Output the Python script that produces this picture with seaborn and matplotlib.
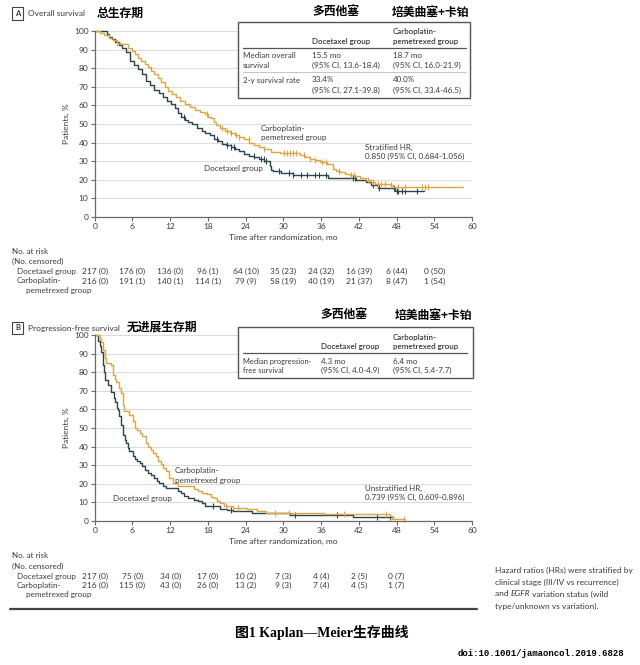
import numpy as np
import pandas as pd
import matplotlib
matplotlib.use('Agg')
import matplotlib.pyplot as plt
import matplotlib.transforms as mtransforms
from matplotlib.patches import Rectangle
import seaborn as sns

# ---- data ----
months = [0, 6, 12, 18, 24, 30, 36, 42, 48, 54]

# overall survival (step points: time, % after each drop)
os_doc_t = [0, 1.9, 2.3, 2.8, 3.3, 3.9, 4.4, 5.0, 5.6, 6.2, 6.9, 7.5, 8.2, 8.8, 9.5, 10.2, 10.9,
            11.5, 12.2, 12.7, 13.2, 13.8, 14.3, 14.9, 15.4, 16.2, 17.0, 17.6, 18.3, 19.0, 19.6,
            20.3, 20.9, 21.6, 22.3, 23.0, 23.8, 24.6, 25.4, 26.2, 27.0, 27.8, 28.1, 28.4, 29.7,
            31.6, 37.1, 41.5, 43.2, 44.0, 45.1, 47.7, 52.4]
os_doc_s = [100, 98.5, 97, 95.5, 94, 92.5, 91, 88.5, 84, 81.5, 79.5, 77, 73, 71, 68.5, 66.5, 64.5,
            62.5, 60.5, 58.5, 56, 54, 52, 51, 50, 48, 46.5, 45, 44, 42, 41,
            39.5, 38.5, 37.5, 36.5, 35.5, 34, 33, 32, 31, 30, 27.5, 25.5, 24.5, 23.5,
            22.5, 21, 19.8, 18.8, 17, 15.8, 14, 14]
os_carbo_t = [0, 0.8, 1.5, 2.2, 2.9, 3.5, 4.2, 5.3, 5.9, 6.4, 6.9, 7.4, 8.0, 8.5, 9.0, 9.5, 10.1,
              10.6, 11.2, 11.7, 12.3, 13.0, 13.6, 14.3, 15.1, 15.9, 16.7, 17.5, 18.0, 18.5, 18.9,
              19.3, 20.0, 20.7, 21.5, 22.3, 23.0, 23.8, 24.6, 25.4, 26.2, 27.0, 28.1, 29.5, 32.6,
              33.4, 34.2, 35.0, 35.8, 36.9, 37.9, 38.4, 39.0, 39.8, 40.6, 41.4, 42.2, 43.2, 44.0,
              44.6, 47.0, 47.5, 58.6]
os_carbo_s = [100, 99, 98, 96.5, 95, 93.5, 93, 91, 89, 87.5, 85.5, 84, 82, 80.5, 78.5, 77, 74.5,
              72.5, 70, 68, 66, 64.5, 62.5, 61, 59, 57.5, 56.5, 55.5, 54, 53, 51,
              49.5, 48, 46.5, 45, 44, 43, 41.8, 40, 38.7, 37.5, 36.5, 35.2, 34.6, 33.2,
              32.2, 31.4, 30.5, 29.6, 28.7, 26, 25, 24.2, 23.3, 22.4, 21.8, 21.1, 19.7, 18.8,
              17.9, 17, 16, 16]
os_doc_cens = [14.2, 19.5, 21.0, 21.6, 22.1, 25.3, 26.5, 26.9, 27.3, 29.3, 30.9, 31.6, 32.8, 33.7,
               35.0, 35.6, 36.8, 41.0, 41.4, 44.2, 45.2, 47.6, 48.0, 48.3, 48.8, 49.4, 51.2]
os_carbo_cens = [3.6, 17.9, 20.3, 21.1, 21.6, 22.4, 23.0, 24.5, 27.0, 30.1, 30.6, 31.1, 31.6, 32.0,
                 33.3, 34.2, 35.1, 36.2, 36.8, 38.8, 40.7, 41.2, 43.5, 44.3, 45.0, 45.6, 46.2,
                 47.1, 48.2, 49.3, 52.1, 52.6, 53.0]
os_doc_risk = ['217 (0)', '176 (0)', '136 (0)', '96 (1)', '64 (10)', '35 (23)', '24 (32)', '16 (39)', '6 (44)', '0 (50)']
os_carbo_risk = ['216 (0)', '191 (1)', '140 (1)', '114 (1)', '79 (9)', '58 (19)', '40 (19)', '21 (37)', '8 (47)', '1 (54)']

# progression-free survival
pfs_doc_t = [0, 0.5, 0.8, 1.05, 1.3, 1.5, 1.7, 2.1, 2.6, 3.0, 3.2, 3.5, 3.7, 3.9, 4.2, 4.5, 4.8,
             5.0, 5.3, 5.5, 6.05, 6.4, 6.8, 7.2, 7.6, 8.0, 8.4, 8.9, 9.5, 9.9, 10.3, 10.8, 11.3,
             13.2, 13.7, 14.2, 14.8, 15.8, 16.4, 17.1, 17.5, 19.9, 21.0, 22.0, 25.0, 31.1, 41.1, 47.5]
pfs_doc_s = [100, 97, 94, 91, 84, 80, 76, 73, 69.6, 66, 64, 61, 59.8, 56.3, 51.8, 46, 43.5,
             42, 39.5, 37.5, 34.8, 33.5, 32.1, 31, 29.5, 27.5, 25.9, 24.5, 23.2, 21.5, 20.5, 19, 17.9,
             16.1, 14.8, 13.4, 12.2, 11.2, 10.5, 9.8, 8, 6.6, 5.9, 5.4, 4.1, 3.0, 2.1, 2.1]
pfs_carbo_t = [0, 0.8, 1.05, 1.3, 1.6, 1.8, 2.6, 2.9, 3.2, 3.4, 3.9, 4.2, 4.5, 4.7, 5.5, 6.05, 6.4,
               6.8, 7.2, 7.6, 8.2, 8.5, 8.9, 9.3, 9.7, 10.1, 10.5, 10.9, 11.3, 11.8, 12.4, 13.2,
               15.8, 16.4, 17.1, 17.9, 18.5, 18.9, 19.4, 19.9, 20.5, 22.0, 24.2, 25.8, 27.3, 36.4,
               47.0, 47.2, 49.3]
pfs_carbo_s = [100, 98, 96.4, 92, 87.5, 84.8, 83.9, 78.6, 76.5, 75, 71.4, 68.8, 62.5, 58.9, 57.1, 53.6, 50,
               48.8, 47.5, 45.5, 42, 40, 38.4, 36.5, 34.8, 32.5, 30.4, 28.5, 26.8, 23.2, 20.5, 18.8,
               17, 16, 15, 14.3, 13, 12.5, 11, 9.8, 8, 7.1, 6.6, 5.4, 4.5, 3.6,
               2.7, 1.3, 1.3]
pfs_doc_cens = [18.8, 21.6, 31.8, 38.6, 44.9, 47.0]
pfs_carbo_cens = [20.9, 22.8, 28.7, 30.9, 39.6, 46.4, 49.2]
pfs_doc_risk = ['217 (0)', '75 (0)', '34 (0)', '17 (0)', '10 (2)', '7 (3)', '4 (4)', '2 (5)', '0 (7)']
pfs_carbo_risk = ['216 (0)', '115 (0)', '43 (0)', '26 (0)', '13 (2)', '9 (3)', '7 (4)', '4 (5)', '1 (7)']

DOC = '#2c4351'
CARBO = '#e0a540'
TXT = '#3a3a3a'
FS = 5.8

sns.set_style('white')
plt.rcParams['font.family'] = ['Lato', 'Noto Sans CJK SC', 'DejaVu Sans']
CJK = ['Noto Sans CJK SC', 'DejaVu Sans']

W, H = 640, 665
fig = plt.figure(figsize=(W / 100, H / 100), dpi=100)
fig.patch.set_facecolor('white')

# overlay in pixel coordinates for all the free text
ov = fig.add_axes([0, 0, 1, 1], zorder=5)
ov.set_xlim(0, W)
ov.set_ylim(H, 0)
ov.axis('off')
ov.patch.set_visible(False)


def px_axes(top, bottom):
    left, right = 94.7, 472
    return fig.add_axes([left / W, 1 - bottom / H, (right - left) / W, (bottom - top) / H])


def step_value(t, s, c):
    i = np.searchsorted(t, c, side='right') - 1
    return s[i]


def km_panel(ax, curves):
    for t, s, cens, col in curves:
        df = pd.DataFrame({'t': t, 's': s})
        sns.lineplot(data=df, x='t', y='s', drawstyle='steps-post', estimator=None,
                     color=col, lw=1.0, ax=ax, clip_on=False)
        cy = [step_value(np.array(t), np.array(s), c) for c in cens]
        ax.plot(cens, cy, ls='none', marker='|', ms=5, mew=0.8, color=col, clip_on=False)
    ax.set_xlim(0, 60)
    ax.set_ylim(0, 100)
    ax.set_xticks(range(0, 61, 6))
    ax.set_yticks(range(0, 101, 10))
    ax.yaxis.grid(True, color='#dcdcdc', lw=0.8)
    ax.set_axisbelow(True)
    sns.despine(ax=ax)
    for sp in ['left', 'bottom']:
        ax.spines[sp].set_color('#6a6a6a')
        ax.spines[sp].set_linewidth(0.9)
    ax.tick_params(direction='out', length=3, width=0.8, color='#6a6a6a',
                   labelsize=6.0, labelcolor=TXT, pad=1.5, left=True, bottom=True)
    ax.set_xlabel('Time after randomization, mo', fontsize=6.0, color=TXT, labelpad=3)
    ax.set_ylabel('Patients, %', fontsize=6.0, color=TXT, labelpad=3)


def txt(x, y, s, size=FS, **kw):
    kw.setdefault('color', TXT)
    kw.setdefault('va', 'center')
    return ov.text(x, y, s, fontsize=size, **kw)


def risk_table(ax, y0, doc, carbo):
    tr = mtransforms.blended_transform_factory(ax.transData, ov.transData)
    txt(12, y0, 'No. at risk')
    txt(12, y0 + 10, '(No. censored)')
    txt(17, y0 + 20, 'Docetaxel group')
    txt(17, y0 + 29.5, 'Carboplatin-')
    txt(26, y0 + 39, 'pemetrexed group')
    for m, a in zip(months, doc):
        ov.text(m, y0 + 20, a, transform=tr, ha='center', va='center', fontsize=6.0, color=TXT)
    for m, b in zip(months, carbo):
        ov.text(m, y0 + 29.5, b, transform=tr, ha='center', va='center', fontsize=6.0, color=TXT)


def panel_header(y, letter, name):
    txt(17.5, y, letter, size=5.5, ha='center', fontweight='bold',
        bbox=dict(boxstyle='square,pad=0.35', fc='white', ec='#444444', lw=0.8))
    txt(28, y, name, size=6.0)


# ---- panel A ----
ax1 = px_axes(31, 217)
km_panel(ax1, [(os_doc_t, os_doc_s, os_doc_cens, DOC),
               (os_carbo_t, os_carbo_s, os_carbo_cens, CARBO)])
panel_header(13.5, 'A', 'Overall survival')
txt(97, 13.5, '总生存期', size=8.5, family=CJK, fontweight='bold', color='black')
txt(312, 12.5, '多西他塞', size=8.5, family=CJK, fontweight='bold', color='black')
txt(392, 12.5, '培美曲塞+卡铂', size=8.5, family=CJK, fontweight='bold', color='black')

ov.add_patch(Rectangle((238, 22), 232, 75.5, fc='white', ec='#555555', lw=1.0, zorder=1))
ov.plot([243, 466], [48, 48], color='#555555', lw=0.9)
ov.plot([243, 466], [72, 72], color='#bbbbbb', lw=0.6)
txt(311.5, 41.5, 'Docetaxel group', fontweight='semibold')
txt(393, 31.5, 'Carboplatin-', fontweight='semibold')
txt(393, 41.5, 'pemetrexed group', fontweight='semibold')
txt(243, 55, 'Median overall')
txt(243, 65, 'survival')
txt(311.5, 55, '15.5 mo')
txt(311.5, 65, '(95% CI, 13.6-18.4)')
txt(393, 55, '18.7 mo')
txt(393, 65, '(95% CI, 16.0-21.9)')
txt(243, 80, '2-y survival rate')
txt(311.5, 80, '33.4%')
txt(311.5, 90, '(95% CI, 27.1-39.8)')
txt(393, 80, '40.0%')
txt(393, 90, '(95% CI, 33.4-46.5)')

txt(261, 128, 'Carboplatin-')
txt(261, 137.5, 'pemetrexed group')
txt(365, 147, 'Stratified HR,')
txt(365, 156.5, '0.850 (95% CI, 0.684-1.056)')
txt(204, 169, 'Docetaxel group')

risk_table(ax1, 251.5, os_doc_risk, os_carbo_risk)

# ---- panel B ----
ax2 = px_axes(335, 521)
km_panel(ax2, [(pfs_doc_t, pfs_doc_s, pfs_doc_cens, DOC),
               (pfs_carbo_t, pfs_carbo_s, pfs_carbo_cens, CARBO)])
panel_header(328, 'B', 'Progression-free survival')
txt(127, 327, '无进展生存期', size=8.5, family=CJK, fontweight='bold', color='black')
txt(320, 315, '多西他塞', size=8.5, family=CJK, fontweight='bold', color='black')
txt(395, 315, '培美曲塞+卡铂', size=8.5, family=CJK, fontweight='bold', color='black')

ov.add_patch(Rectangle((238, 327), 234.5, 51, fc='white', ec='#555555', lw=1.0, zorder=1))
ov.plot([243, 467], [352.5, 352.5], color='#555555', lw=0.9)
txt(321, 347, 'Docetaxel group', fontweight='semibold')
txt(393, 337.5, 'Carboplatin-', fontweight='semibold')
txt(393, 347, 'pemetrexed group', fontweight='semibold')
txt(243, 361.5, 'Median progression-', size=5.4)
txt(243, 370.5, 'free survival', size=5.4)
txt(321, 361.5, '4.3 mo')
txt(321, 370.5, '(95% CI, 4.0-4.9)')
txt(393, 361.5, '6.4 mo')
txt(393, 370.5, '(95% CI, 5.4-7.7)')

txt(175, 470, 'Carboplatin-')
txt(175, 480, 'pemetrexed group')
txt(365, 488, 'Unstratified HR,')
txt(365, 497.5, '0.739 (95% CI, 0.609-0.896)')
txt(113, 498.5, 'Docetaxel group')

risk_table(ax2, 556, pfs_doc_risk, pfs_carbo_risk)

# footer rule and footnote
ov.plot([10, 477], [609, 609], color='#444444', lw=1.6)
FN = 6.0
txt(495, 570, 'Hazard ratios (HRs) were stratified by', size=FN)
txt(495, 582, 'clinical stage (III/IV vs recurrence)', size=FN)
t1 = txt(495, 594, 'and ', size=FN)
t2 = ov.annotate('EGFR', xy=(1, 0), xycoords=t1, ha='left', va='bottom',
                 fontsize=FN, style='italic', color=TXT)
ov.annotate(' variation status (wild', xy=(1, 0), xycoords=t2, ha='left', va='bottom',
            fontsize=FN, color=TXT)
txt(495, 606, 'type/unknown vs variation).', size=FN)

# caption
txt(235, 633, '图1 Kaplan—Meier生存曲线', size=10, fontweight='bold', color='black',
    family=['Liberation Serif', 'Noto Sans CJK SC'])
txt(458, 653, 'doi:10.1001/jamaoncol.2019.6828', size=6.5, fontweight='bold', color='black',
    family=['Liberation Mono', 'DejaVu Sans Mono'])

fig.savefig('out.png', dpi=100)
